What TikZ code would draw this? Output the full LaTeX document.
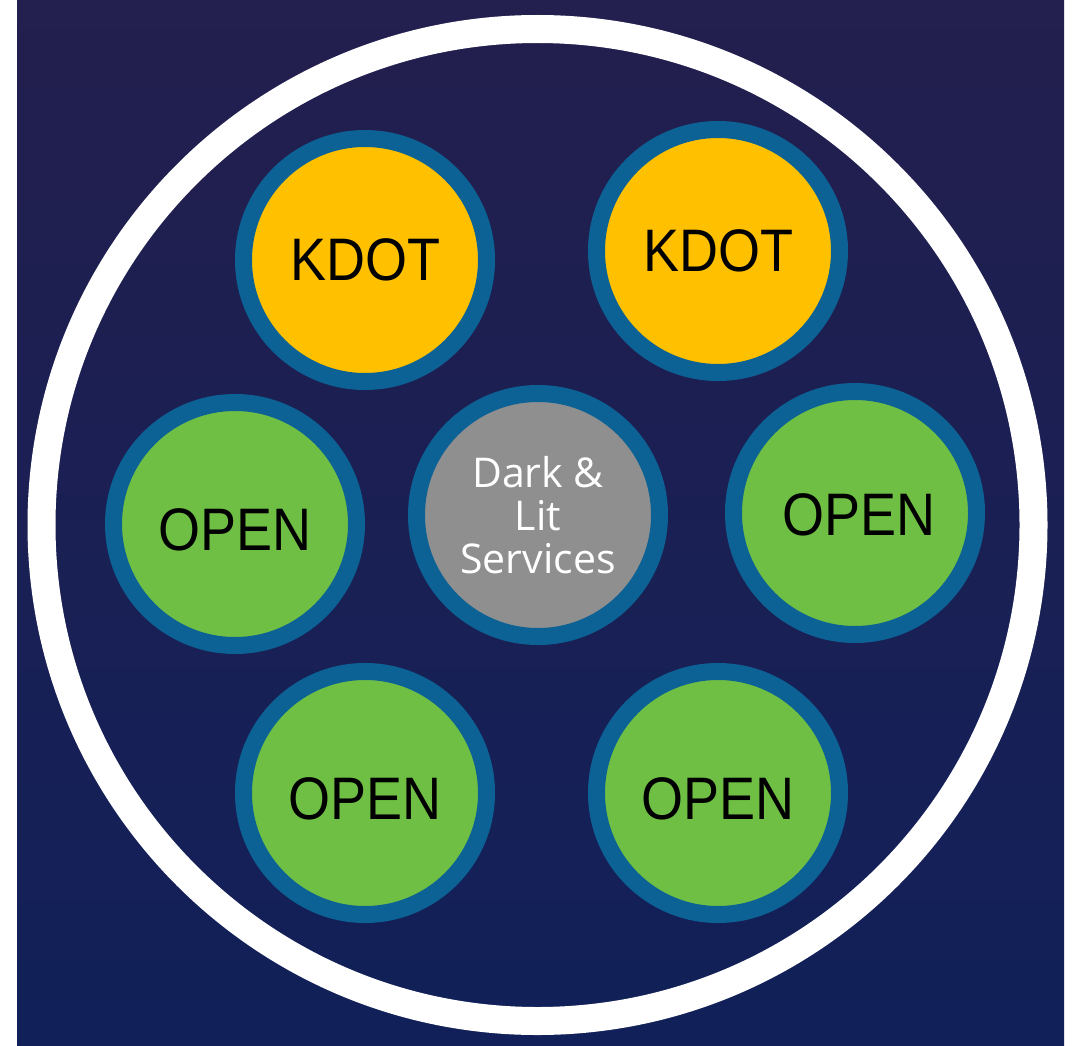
\documentclass[tikz,border=0pt]{standalone}
\usepackage{fontspec}
\setmainfont{Liberation Sans}
\newfontfamily\centerfont{Open Sans}
\usetikzlibrary{shapes.geometric}
\definecolor{bgtop}{HTML}{231F4E}
\definecolor{bgmid}{HTML}{263266}
\definecolor{bgbot}{HTML}{112059}
\definecolor{ringblue}{HTML}{0C6294}
\definecolor{kyellow}{HTML}{FFC000}
\definecolor{ogreen}{HTML}{6FBF44}
\definecolor{cgray}{HTML}{8F8F8F}
\tikzset{
  bubble/.style={circle, draw=ringblue, line width=17pt, minimum size=243pt, inner sep=0pt,
    font=\fontsize{60}{60}\selectfont, text=black},
  kdotbubble/.style={bubble, fill=kyellow},
  openbubble/.style={bubble, fill=ogreen},
  hubbubble/.style={bubble, fill=cgray, text=white, align=center,
    font=\centerfont\fontsize{41}{43}\selectfont},
  bigring/.style={circle, draw=white, line width=28pt, minimum size=992pt, inner sep=0pt}
}
\newcommand{\nar}[2][0pt]{\raisebox{#1}[\height][\depth]{\scalebox{0.9}[1]{#2}}}
\begin{document}
\begin{tikzpicture}[x=1pt,y=-1pt]
\useasboundingbox (0,0) rectangle (1079,1046);
\fill[white] (0,0) rectangle (1079,1046);
\shade[top color=bgtop, middle color=bgmid, bottom color=bgbot] (17,0) rectangle (1064,1046);
\node[bigring] (ring) at (537.5,525) {};
\node[kdotbubble] (k1) at (365,260) {\nar{KDOT}};
\node[kdotbubble] (k2) at (718,251) {\nar{KDOT}};
\node[openbubble] (o1) at (235,524) {\nar[-6pt]{OPEN}};
\node[hubbubble] (hub) at (538,515) {Dark \&\\Lit\\Services};
\node[openbubble] (o2) at (855,513) {\hspace*{8pt}\nar[-2pt]{OPEN}};
\node[openbubble] (o3) at (365,793) {\nar[-6pt]{OPEN}};
\node[openbubble] (o4) at (718,793) {\nar[-6pt]{OPEN}};
\end{tikzpicture}
\end{document}
